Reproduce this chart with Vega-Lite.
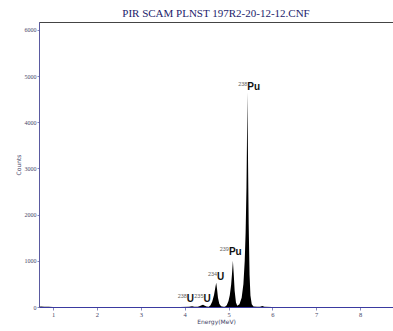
{
  "$schema": "https://vega.github.io/schema/vega-lite/v6.json",
  "width": 354,
  "height": 285,
  "autosize": "none",
  "padding": {"left": 39, "top": 22, "right": 0, "bottom": 24},
  "background": "white",
  "config": {"view": {"stroke": "#444", "strokeWidth": 1}},
  "title": {"text": "PIR SCAM PLNST 197R2-20-12-12.CNF", "font": "Liberation Serif", "fontSize": 11, "fontWeight": "normal", "color": "#1c1c6b", "offset": 3},
  "datasets": {
    "spectrum": [
      {"e": 0.68, "c": 2}, {"e": 0.72, "c": 12}, {"e": 0.8, "c": 8}, {"e": 0.9, "c": 3}, {"e": 1.0, "c": 2}, {"e": 2.0, "c": 2}, {"e": 3.0, "c": 2}, {"e": 3.9, "c": 2},
      {"e": 4.10, "c": 5}, {"e": 4.17, "c": 18}, {"e": 4.22, "c": 5},
      {"e": 4.30, "c": 5}, {"e": 4.35, "c": 20}, {"e": 4.40, "c": 45}, {"e": 4.42, "c": 50}, {"e": 4.45, "c": 30}, {"e": 4.50, "c": 10},
      {"e": 4.55, "c": 6}, {"e": 4.59, "c": 40}, {"e": 4.63, "c": 120}, {"e": 4.67, "c": 260}, {"e": 4.70, "c": 420}, {"e": 4.72, "c": 525}, {"e": 4.74, "c": 380}, {"e": 4.76, "c": 200}, {"e": 4.79, "c": 70}, {"e": 4.83, "c": 15}, {"e": 4.88, "c": 5},
      {"e": 4.92, "c": 6}, {"e": 4.96, "c": 40}, {"e": 5.00, "c": 130}, {"e": 5.03, "c": 260}, {"e": 5.06, "c": 480}, {"e": 5.08, "c": 720}, {"e": 5.10, "c": 1000}, {"e": 5.12, "c": 700}, {"e": 5.14, "c": 350}, {"e": 5.17, "c": 100}, {"e": 5.20, "c": 25},
      {"e": 5.25, "c": 60}, {"e": 5.30, "c": 200}, {"e": 5.34, "c": 500}, {"e": 5.37, "c": 1000}, {"e": 5.39, "c": 1600}, {"e": 5.41, "c": 2600}, {"e": 5.42, "c": 3500}, {"e": 5.43, "c": 4650}, {"e": 5.445, "c": 3200}, {"e": 5.46, "c": 1800}, {"e": 5.48, "c": 700}, {"e": 5.50, "c": 250}, {"e": 5.53, "c": 60}, {"e": 5.57, "c": 10}, {"e": 5.65, "c": 3},
      {"e": 5.72, "c": 5}, {"e": 5.77, "c": 20}, {"e": 5.82, "c": 4}, {"e": 6.0, "c": 2}, {"e": 7.0, "c": 2}, {"e": 8.0, "c": 2}, {"e": 8.75, "c": 2}
    ],
    "labels": [
      {"e": 5.43, "c": 4700, "mass": "238", "el": "Pu"},
      {"e": 5.01, "c": 1130, "mass": "239", "el": "Pu"},
      {"e": 4.74, "c": 585, "mass": "234", "el": "U"},
      {"e": 4.43, "c": 115, "mass": "235", "el": "U"},
      {"e": 4.05, "c": 115, "mass": "238", "el": "U"}
    ]
  },
  "encoding": {
    "x": {"field": "e", "type": "quantitative", "scale": {"domain": [0.68, 8.75], "nice": false, "zero": false},
      "axis": {"title": "Energy(MeV)", "values": [1, 2, 3, 4, 5, 6, 7, 8], "format": "d", "grid": false, "domainColor": "#3a3aa0", "tickColor": "#8888bb", "tickSize": 3, "labelFontSize": 6.5, "labelFont": "Liberation Serif", "labelColor": "#444466", "labelPadding": 1, "titleFontSize": 6, "titleFont": "DejaVu Sans", "titleFontWeight": "normal", "titleColor": "#444466", "titlePadding": 1}},
    "y": {"field": "c", "type": "quantitative", "scale": {"domain": [0, 6170], "nice": false},
      "axis": {"title": "Counts", "values": [0, 1000, 2000, 3000, 4000, 5000, 6000], "format": "d", "grid": false, "domainColor": "#5a5aa0", "tickColor": "#8888bb", "tickSize": 2, "labelFontSize": 6, "labelFont": "Liberation Serif", "labelColor": "#444466", "labelPadding": 1, "titleFontSize": 6, "titleFont": "DejaVu Sans", "titleFontWeight": "normal", "titleColor": "#444466", "titlePadding": 3}}
  },
  "layer": [
    {"data": {"name": "spectrum"}, "mark": {"type": "area", "color": "black", "line": false}},
    {"data": {"name": "labels"}, "mark": {"type": "text", "align": "left", "baseline": "alphabetic", "font": "Liberation Sans", "fontWeight": "bold", "fontSize": 10, "color": "#111"}, "encoding": {"text": {"field": "el"}}},
    {"data": {"name": "labels"}, "mark": {"type": "text", "align": "right", "baseline": "alphabetic", "font": "Liberation Sans", "fontSize": 5.5, "color": "#666", "dy": -4}, "encoding": {"text": {"field": "mass"}}}
  ]
}
